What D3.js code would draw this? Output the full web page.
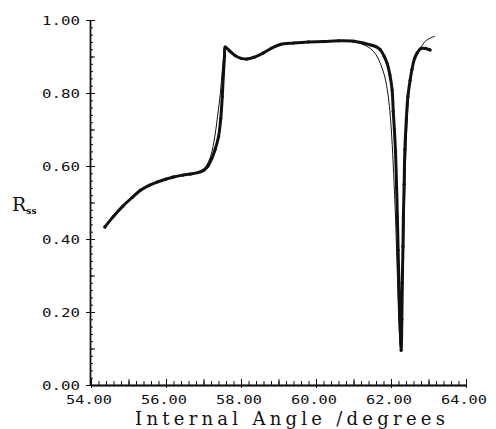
<!DOCTYPE html>
<html>
<head>
<meta charset="utf-8">
<script src="https://cdn.jsdelivr.net/npm/d3@7"></script>
<style>
  html, body { margin: 0; padding: 0; background: #fff; }
  svg { display: block; }
</style>
</head>
<body>
<svg id="chart" width="496" height="429"></svg>
<script>
// ---- data ----
const xTickLabels = [54, 56, 58, 60, 62, 64];
const yTickLabels = [0, 0.2, 0.4, 0.6, 0.8, 1.0];

const measuredX = [54.37, 54.6, 54.85, 55.1, 55.31, 55.55, 55.76, 56.0, 56.2, 56.45, 56.65, 56.85, 57.0, 57.12, 57.22, 57.31, 57.40, 57.46, 57.50, 57.53, 57.56, 57.58, 57.7, 57.85, 58.0, 58.15, 58.35, 58.6, 58.8, 59.05, 59.4, 59.8, 60.2, 60.6, 61.0, 61.25, 61.45, 61.6, 61.72, 61.82, 61.9, 61.97, 62.03, 62.06, 62.09, 62.12, 62.15, 62.17, 62.19, 62.21, 62.24, 62.27, 62.29, 62.30, 62.32, 62.33, 62.35, 62.37, 62.41, 62.45, 62.51, 62.56, 62.63, 62.70, 62.80, 62.92, 63.04];
const measuredY = [0.433, 0.462, 0.490, 0.514, 0.533, 0.547, 0.556, 0.564, 0.570, 0.575, 0.578, 0.582, 0.588, 0.600, 0.620, 0.645, 0.680, 0.730, 0.790, 0.850, 0.900, 0.926, 0.915, 0.902, 0.895, 0.893, 0.898, 0.910, 0.922, 0.933, 0.937, 0.940, 0.941, 0.943, 0.942, 0.937, 0.932, 0.927, 0.918, 0.900, 0.880, 0.850, 0.808, 0.750, 0.700, 0.640, 0.540, 0.460, 0.370, 0.280, 0.180, 0.095, 0.180, 0.280, 0.380, 0.460, 0.550, 0.645, 0.730, 0.790, 0.835, 0.865, 0.895, 0.910, 0.922, 0.922, 0.918];

const theoryX = [54.37, 54.6, 54.85, 55.1, 55.31, 55.55, 55.76, 56.0, 56.2, 56.45, 56.65, 56.85, 57.0, 57.1, 57.2, 57.3, 57.38, 57.45, 57.5, 57.55, 57.58, 57.7, 57.85, 58.0, 58.15, 58.35, 58.6, 58.8, 59.05, 59.4, 59.8, 60.2, 60.6, 61.0, 61.25, 61.45, 61.6, 61.72, 61.82, 61.9, 61.97, 62.02, 62.07, 62.12, 62.17, 62.22, 62.26, 62.30, 62.33, 62.36, 62.40, 62.45, 62.52, 62.60, 62.70, 62.80, 62.90, 63.0, 63.1, 63.17];
const theoryY = [0.433, 0.462, 0.490, 0.514, 0.533, 0.547, 0.556, 0.564, 0.570, 0.575, 0.578, 0.582, 0.590, 0.605, 0.630, 0.680, 0.740, 0.800, 0.860, 0.910, 0.926, 0.915, 0.902, 0.895, 0.893, 0.898, 0.910, 0.922, 0.933, 0.937, 0.940, 0.941, 0.943, 0.941, 0.933, 0.922, 0.905, 0.880, 0.850, 0.810, 0.750, 0.680, 0.580, 0.460, 0.300, 0.150, 0.100, 0.200, 0.350, 0.500, 0.650, 0.760, 0.840, 0.880, 0.905, 0.925, 0.940, 0.948, 0.953, 0.955];

// ---- layout ----
const svg = d3.select("#chart");
const x = d3.scaleLinear().domain([54, 64]).range([91, 466]);
const y = d3.scaleLinear().domain([0, 1]).range([385, 20]);
const ink = "#111";
const monoFont = "'DejaVu Sans Mono', monospace";

// ---- x axis ----
const xMinor = d3.range(54, 64.001, 0.2).map(v => +v.toFixed(2));
const xMajor = d3.range(54, 64.001, 1);
const gx = svg.append("g").attr("transform", `translate(0,${y(0)})`);
gx.call(d3.axisBottom(x).tickValues(xMinor).tickSize(-4).tickSizeOuter(0).tickFormat(""));
gx.append("g").call(d3.axisBottom(x).tickValues(xMajor).tickSize(-6).tickSizeOuter(0).tickFormat(""));
gx.append("g").call(d3.axisBottom(x).tickValues(xTickLabels).tickSize(3).tickSizeOuter(0).tickFormat(""));
gx.selectAll("path.domain").attr("stroke", ink).attr("stroke-width", 1.3);
gx.selectAll("line").attr("stroke", ink).attr("stroke-width", 1);
gx.selectAll(".xl").data(xTickLabels).enter().append("text")
  .attr("x", d => x(d) - 2).attr("y", 19)
  .attr("text-anchor", "middle")
  .attr("font-family", monoFont).attr("font-size", 12)
  .attr("textLength", 46).attr("lengthAdjust", "spacingAndGlyphs")
  .attr("fill", ink)
  .text(d => d3.format(".2f")(d));

// ---- y axis ----
const yMinor = d3.range(0, 1.0001, 0.02).map(v => +v.toFixed(2));
const yMid = d3.range(0, 1.0001, 0.1).map(v => +v.toFixed(2));
const gy = svg.append("g").attr("transform", `translate(${x(54) - 1},0)`);
gy.call(d3.axisLeft(y).tickValues(yMinor).tickSize(-3).tickSizeOuter(0).tickFormat(""));
gy.append("g").call(d3.axisLeft(y).tickValues(yMid).tickSize(-5).tickSizeOuter(0).tickFormat(""));
gy.append("g").call(d3.axisLeft(y).tickValues(yTickLabels).tickSize(4).tickSizeOuter(0).tickFormat(""));
gy.selectAll("path.domain").attr("stroke", ink).attr("stroke-width", 1.3);
gy.selectAll("line").attr("stroke", ink).attr("stroke-width", 1);
gy.selectAll(".yl").data(yTickLabels).enter().append("text")
  .attr("x", -10).attr("y", d => y(d) + 5)
  .attr("text-anchor", "end")
  .attr("font-family", monoFont).attr("font-size", 13)
  .attr("textLength", 38).attr("lengthAdjust", "spacingAndGlyphs")
  .attr("fill", ink)
  .text(d => d3.format(".2f")(d));

// ---- axis titles ----
svg.append("text")
  .attr("x", 135).attr("y", 425)
  .attr("font-family", "'DejaVu Serif', serif").attr("font-size", 18)
  .attr("textLength", 310).attr("lengthAdjust", "spacing")
  .attr("fill", ink)
  .text("Internal Angle /degrees");

const yt = svg.append("text")
  .attr("x", 12).attr("y", 211)
  .attr("font-family", "'DejaVu Serif', serif").attr("font-size", 19)
  .attr("fill", ink);
yt.append("tspan").text("R");
yt.append("tspan").attr("font-size", 9).attr("dy", 3).attr("font-weight", "bold").text("ss");

// ---- series ----
const linePath = d3.line().x(d => x(d[0])).y(d => y(d[1])).curve(d3.curveCatmullRom.alpha(0.5));

const measured = measuredX.map((v, i) => [v, measuredY[i]]);
const theory = theoryX.map((v, i) => [v, theoryY[i]]);

svg.append("path").datum(measured)
  .attr("d", linePath)
  .attr("fill", "none").attr("stroke", ink)
  .attr("stroke-width", 3).attr("stroke-linejoin", "round").attr("stroke-linecap", "round");

svg.selectAll(".pt").data(measured).enter().append("circle")
  .attr("cx", d => x(d[0])).attr("cy", d => y(d[1]))
  .attr("r", 1.6).attr("fill", ink);

svg.append("path").datum(theory)
  .attr("d", linePath)
  .attr("fill", "none").attr("stroke", ink)
  .attr("stroke-width", 1).attr("stroke-linejoin", "round");
</script>
</body>
</html>
